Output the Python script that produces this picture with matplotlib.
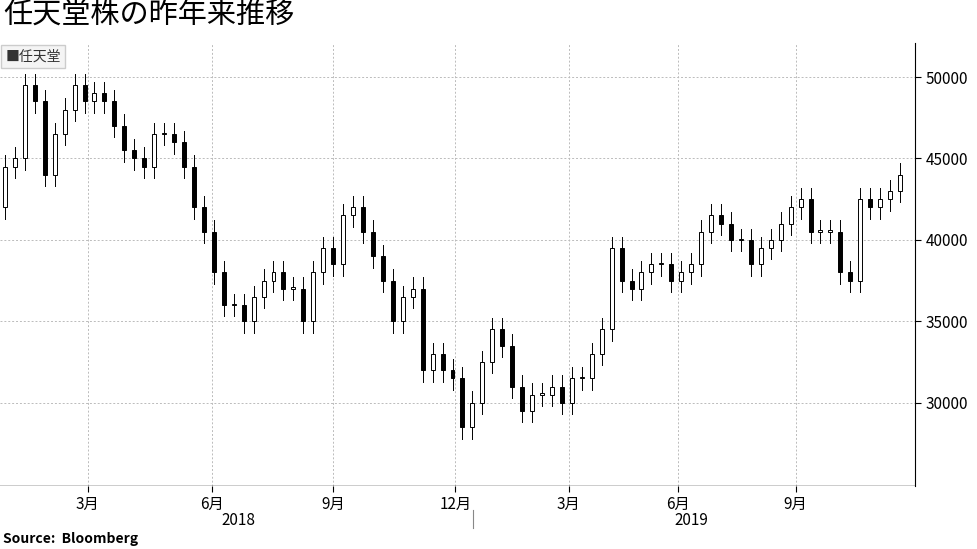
import matplotlib
matplotlib.use("Agg")
import matplotlib.pyplot as plt
from matplotlib.patches import Rectangle

plt.rcParams['font.family'] = ['Noto Sans CJK JP', 'DejaVu Sans']

closes = [44500, 45000, 49500, 48500, 44000, 46500, 48000, 49500, 48500, 49000,
          48500, 47000, 45500, 45000, 44500, 46500, 46500, 46000, 44500, 42000,
          40500, 38000, 36000, 36000, 35000, 36500, 37500, 38000, 37000, 37000,
          35000, 38000, 39500, 38500, 41500, 42000, 40500, 39000, 37500, 35000,
          36500, 37000, 32000, 33000, 32000, 31500, 28500, 30000, 32500, 34500,
          33500, 31000, 29500, 30500, 30500, 31000, 30000, 31500, 31500, 33000,
          34500, 39500, 37500, 37000, 38000, 38500, 38500, 37500, 38000, 38500,
          40500, 41500, 41000, 40000, 40000, 38500, 39500, 40000, 41000, 42000,
          42500, 40500, 40500, 40500, 38000, 37500, 42500, 42000, 42500, 43000, 44000]
first_open = 42000
wick = 700
month_ticks = [8.3, 20.8, 33.0, 45.3, 56.7, 67.7, 79.5]
month_labels = ['3月', '6月', '9月', '12月', '3月', '6月', '9月']
years = ['2018', '2019']
year_pos = [23.5, 69.0]

fig = plt.figure(figsize=(9.77, 5.49), dpi=100)
ax = fig.add_axes([0.0, 0.115, 0.9365, 0.807])
opens = [first_open] + closes[:-1]
for i, (o, c) in enumerate(zip(opens, closes)):
    hi, lo = max(o, c) + wick, min(o, c) - wick
    ax.plot([i, i], [lo, hi], color='black', lw=0.7, zorder=2)
    up = c >= o
    ax.add_patch(Rectangle((i - 0.2, min(o, c)), 0.4, max(abs(c - o), 80),
                           facecolor='white' if up else 'black',
                           edgecolor='black', lw=0.7, zorder=3))
ax.set_xlim(-0.5, 91.5)
ax.set_ylim(24900, 52100)
ax.yaxis.tick_right()
ax.set_yticks([30000, 35000, 40000, 45000, 50000])
ax.tick_params(axis='y', labelsize=11, length=4)
ax.set_xticks(month_ticks)
ax.set_xticklabels(month_labels, fontsize=11)
ax.tick_params(axis='x', length=4)
ax.grid(True, color='#bbbbbb', ls=(0, (2, 2)), lw=0.7)
for s in ['top', 'left', 'bottom']:
    ax.spines[s].set_visible(False)
ax.spines['right'].set_color('black')
ax.axhline(24900, color='black', lw=1)
for y, p in zip(years, year_pos):
    ax.text(p, -0.06, y, transform=ax.get_xaxis_transform(), ha='center', va='top', fontsize=11)
ax.plot([47.1, 47.1], [-0.055, -0.095], transform=ax.get_xaxis_transform(), color='#888888', lw=0.8, clip_on=False)
ax.text(0.006, 0.985, '■任天堂', transform=ax.transAxes, ha='left', va='top', fontsize=10,
        color='#333333', bbox=dict(facecolor='#f4f4f4', edgecolor='#cccccc', pad=3))
fig.text(0.003, 0.998, '任天堂株の昨年来推移', ha='left', va='top', fontsize=21)
fig.text(0.003, 0.005, 'Source:  Bloomberg', ha='left', va='bottom', fontsize=10, fontweight='bold')
fig.savefig('out.png', dpi=100)
